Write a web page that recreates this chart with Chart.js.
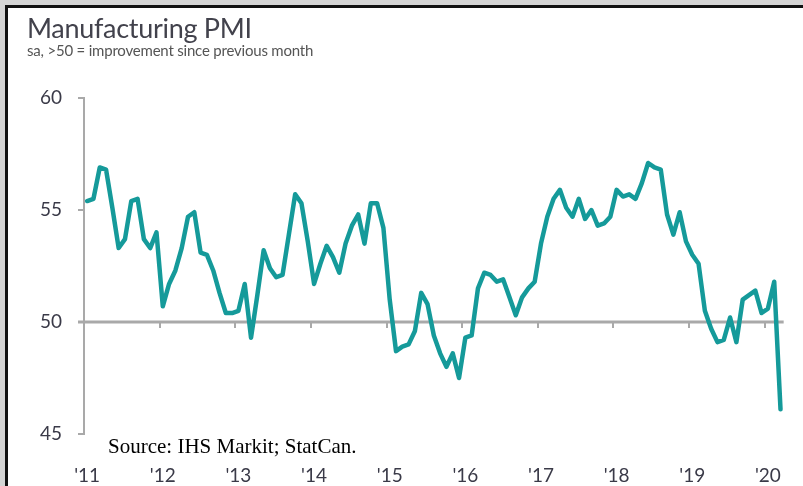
<!DOCTYPE html>
<html>
<head>
<meta charset="utf-8">
<script src="https://cdn.jsdelivr.net/npm/chart.js@4.4.1/dist/chart.umd.min.js"></script>
<style>
  html, body { margin: 0; padding: 0; width: 803px; height: 486px; overflow: hidden; background: #d4d4d4; }
  #frame { position: absolute; left: 5px; top: 5px; width: 800px; height: 483px; background: #fff;
           border-left: 3px solid #111; border-top: 3px solid #111; }
  #chart { position: absolute; left: 0; top: 0; }
  .txt { position: absolute; white-space: nowrap; line-height: 1; }
  #title { left: 27px; top: 11px; font: 27px Lato, sans-serif; color: #42424c; letter-spacing: -0.3px; }
  #sub { left: 27px; top: 41px; font: 15px Lato, sans-serif; color: #555; letter-spacing: -0.2px; }
  #source { left: 108px; top: 434px; font: 21px "Liberation Serif", serif; color: #000; }
</style>
</head>
<body>
<div id="frame"></div>
<canvas id="chart" width="803" height="486"></canvas>
<div class="txt" id="title">Manufacturing PMI</div>
<div class="txt" id="sub">sa, &gt;50 = improvement since previous month</div>
<div class="txt" id="source">Source: IHS Markit; StatCan.</div>
<script>
// monthly, Jan 2011 .. Mar 2020
const pmi2011 = [55.4, 55.5, 56.9, 56.8, 55.1, 53.3, 53.7, 55.4, 55.5, 53.7, 53.3, 54.0];
const pmi2012 = [50.7, 51.7, 52.3, 53.3, 54.7, 54.9, 53.1, 53.0, 52.3, 51.3, 50.4, 50.4];
const pmi2013 = [50.5, 51.7, 49.3, 51.2, 53.2, 52.4, 52.0, 52.1, 53.9, 55.7, 55.3, 53.6];
const pmi2014 = [51.7, 52.6, 53.4, 52.9, 52.2, 53.5, 54.3, 54.8, 53.5, 55.3, 55.3, 54.2];
const pmi2015 = [51.0, 48.7, 48.9, 49.0, 49.6, 51.3, 50.8, 49.4, 48.6, 48.0, 48.6, 47.5];
const pmi2016 = [49.3, 49.4, 51.5, 52.2, 52.1, 51.8, 51.9, 51.1, 50.3, 51.1, 51.5, 51.8];
const pmi2017 = [53.5, 54.7, 55.5, 55.9, 55.1, 54.7, 55.5, 54.6, 55.0, 54.3, 54.4, 54.7];
const pmi2018 = [55.9, 55.6, 55.7, 55.5, 56.2, 57.1, 56.9, 56.8, 54.8, 53.9, 54.9, 53.6];
const pmi2019 = [53.0, 52.6, 50.5, 49.7, 49.1, 49.2, 50.2, 49.1, 51.0, 51.2, 51.4, 50.4];
const pmi2020 = [50.6, 51.8, 46.1];

const pmi = [].concat(pmi2011, pmi2012, pmi2013, pmi2014, pmi2015, pmi2016, pmi2017, pmi2018, pmi2019, pmi2020);

const years = [2011, 2012, 2013, 2014, 2015, 2016, 2017, 2018, 2019, 2020];
const yTicks = [45, 50, 55, 60];

const months = [];
years.forEach(y => {
  for (let m = 1; m <= 12; m++) {
    if (months.length < pmi.length) months.push(y + '-' + String(m).padStart(2, '0'));
  }
});

// 50 line with small year ticks hanging from it
const midLine = {
  id: 'midLine',
  beforeDatasetsDraw(chart) {
    const { ctx, chartArea, scales: { x, y } } = chart;
    const y50 = y.getPixelForValue(50);
    const step = x.getPixelForValue(1) - x.getPixelForValue(0);
    ctx.save();
    ctx.strokeStyle = '#a9a9a9';
    ctx.lineWidth = 3;
    ctx.beginPath();
    ctx.moveTo(chartArea.left - 6, y50);
    ctx.lineTo(chartArea.right, y50);
    ctx.stroke();
    ctx.lineWidth = 2;
    months.forEach((mo, i) => {
      if (!mo.endsWith('-01')) return;
      const px = Math.round(x.getPixelForValue(i) - step / 2);
      ctx.beginPath();
      ctx.moveTo(px, y50);
      ctx.lineTo(px, y50 + 6);
      ctx.stroke();
    });
    ctx.restore();
  }
};

new Chart(document.getElementById('chart'), {
  type: 'line',
  data: {
    labels: months,
    datasets: [{
      data: pmi,
      borderColor: '#159a9a',
      borderWidth: 4.5,
      borderJoinStyle: 'round',
      borderCapStyle: 'round',
      pointRadius: 0,
      tension: 0,
      fill: false
    }]
  },
  options: {
    responsive: false,
    animation: false,
    layout: { padding: { top: 98, left: 0, right: 6, bottom: 0 } },
    plugins: { legend: { display: false }, tooltip: { enabled: false } },
    scales: {
      x: {
        type: 'category',
        offset: true,
        grid: { display: false },
        border: { display: false },
        afterFit: s => { s.height = 52; },
        ticks: {
          autoSkip: false,
          maxRotation: 0,
          padding: 22,
          color: '#3a3a48',
          font: { family: 'Lato', size: 19 },
          callback: function (v, i) {
            const lab = this.getLabelForValue(v);
            return lab.endsWith('-01') ? "'" + lab.slice(2, 4) : null;
          }
        }
      },
      y: {
        min: 45,
        max: 60,
        afterBuildTicks: s => { s.ticks = yTicks.map(v => ({ value: v })); },
        afterFit: s => { s.width = 84; },
        grid: { drawOnChartArea: false, tickLength: 6, color: '#a9a9a9', lineWidth: 2 },
        border: { display: true, color: '#a9a9a9', width: 2 },
        ticks: {
          padding: 16,
          color: '#3a3a48',
          font: { family: 'Lato', size: 19 }
        }
      }
    }
  },
  plugins: [midLine]
});
</script>
</body>
</html>
